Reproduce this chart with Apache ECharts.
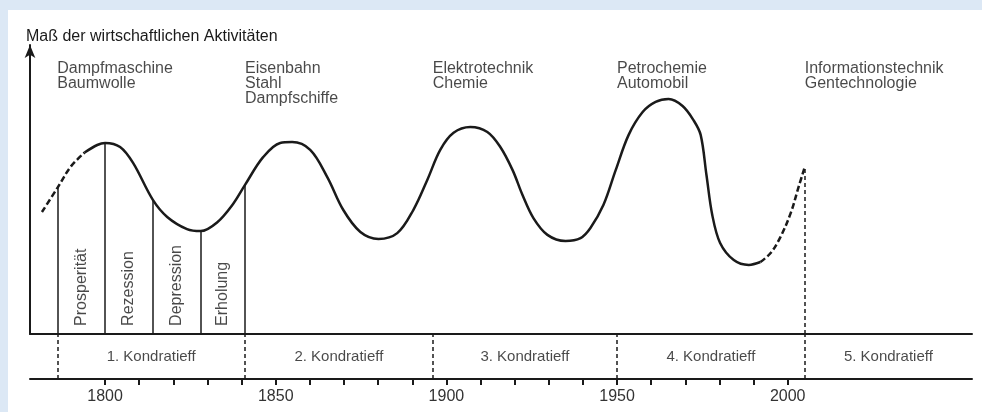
<!DOCTYPE html>
<html>
<head>
<meta charset="utf-8">
<script src="https://cdn.jsdelivr.net/npm/echarts@6/dist/echarts.min.js"></script>
<style>
  html, body { margin: 0; padding: 0; background: #fff; }
  #chart { width: 982px; height: 412px; }
</style>
</head>
<body>
<div id="chart"></div>
<script>
  // Kondratieff-Wellen: Kurve (Jahr / Aktivität 0..100)
  var curveYears = [1781.5, 1786, 1790, 1794, 1797.7, 1800, 1804.4, 1808.2, 1814, 1818.2, 1824, 1828,
    1832.8, 1837.5, 1841, 1846.3, 1851.3, 1854.8, 1860.1, 1865.1, 1869.8, 1874.8, 1880.1, 1885.6,
    1890.3, 1894.4, 1898.2, 1902.1, 1907, 1912, 1915.8, 1919.4, 1922.3, 1925.5, 1929.6, 1934.9,
    1939.3, 1942.2, 1946, 1949.6, 1953.4, 1957.5, 1961.3, 1965.1, 1969.2, 1972.4, 1974.5, 1976.2,
    1977.9, 1980.2, 1984.2, 1988.6, 1992, 1995, 1997.9, 2000.9, 2003.2, 2005]
  var curveValues = [42.2, 50.5, 58.0, 62.8, 65.4, 66.1, 64.7, 59.2, 46.4, 40.5, 36.3, 35.6,
    38.6, 45.0, 51.6, 61.2, 66.1, 66.4, 63.7, 54.3, 42.9, 35.3, 32.9, 34.9,
    42.9, 53.3, 63.7, 69.6, 71.6, 69.9, 64.7, 56.7, 48.1, 40.1, 34.3, 32.2,
    33.2, 36.7, 44.6, 56.7, 68.9, 76.8, 80.3, 81.3, 78.9, 74.0, 68.9, 55.0,
    41.2, 31.5, 25.6, 23.9, 24.9, 28.0, 33.6, 41.9, 50.9, 57.8]
  var solidFrom = 1794
  var solidTo = 1992

  var waveStarts = [1786, 1841, 1896, 1950, 2005]
  var waveNames = ['1. Kondratieff', '2. Kondratieff', '3. Kondratieff', '4. Kondratieff', '5. Kondratieff']
  var techLabels = ['Dampfmaschine\nBaumwolle', 'Eisenbahn\nStahl\nDampfschiffe', 'Elektrotechnik\nChemie',
    'Petrochemie\nAutomobil', 'Informationstechnik\nGentechnologie']
  var phaseYears = [1786, 1800, 1814, 1828, 1841]
  var phaseNames = ['Prosperität', 'Rezession', 'Depression', 'Erholung']
  var yearTicks = [1800, 1810, 1820, 1830, 1840, 1850, 1860, 1870, 1880, 1890, 1900, 1910, 1920,
    1930, 1940, 1950, 1960, 1970, 1980, 1990, 2000]
  var yearLabels = [1800, 1850, 1900, 1950, 2000]

  var axisMin = 1778
  var axisMax = 2054
  var ink = '#1a1a1a'
  var font = 'Liberation Sans, Arial, sans-serif'

  function valueAt(year) {
    return curveValues[curveYears.indexOf(year)]
  }
  function pick(test) {
    var out = []
    curveYears.forEach(function (y, i) { if (test(y)) out.push([y, curveValues[i]]) })
    return out
  }

  var dividerLines = phaseYears.map(function (y) {
    return [{ coord: [y, 0] }, { coord: [y, valueAt(y)] }]
  })
  // letzte Grenze gestrichelt
  var lastStart = waveStarts[waveStarts.length - 1]
  dividerLines.push([{ coord: [lastStart, 0], lineStyle: { type: [4, 3] } }, { coord: [lastStart, valueAt(lastStart)] }])

  var phaseData = phaseNames.map(function (n, i) {
    return { value: [(phaseYears[i] + phaseYears[i + 1]) / 2, 2.8], name: n }
  })
  var techData = techLabels.map(function (t, i) {
    return { value: [waveStarts[i], 94.3], name: t }
  })
  var waveData = waveNames.map(function (n, i) {
    var end = i < waveStarts.length - 1 ? waveStarts[i + 1] : axisMax
    return { value: [(waveStarts[i] + end) / 2, 0.5], name: n }
  })

  var chart = echarts.init(document.getElementById('chart'))
  var option = {
    animation: false,
    backgroundColor: '#fff',
    graphic: [
      { type: 'rect', left: 0, top: 0, shape: { width: 982, height: 10 }, style: { fill: '#dce8f5' } },
      { type: 'rect', left: 0, top: 0, shape: { width: 8, height: 412 }, style: { fill: '#dce8f5' } }
    ],
    title: {
      text: 'Maß der wirtschaftlichen Aktivitäten',
      left: 21, top: 24,
      textStyle: { fontFamily: font, fontSize: 16, fontWeight: 'normal', color: ink }
    },
    grid: [
      { left: 30, right: 10, top: 45, bottom: 78 },
      { left: 30, right: 10, top: 334, bottom: 33 }
    ],
    xAxis: [
      {
        gridIndex: 0, type: 'value', min: axisMin, max: axisMax,
        axisLine: { lineStyle: { color: ink, width: 2 } },
        axisTick: { show: false }, axisLabel: { show: false }, splitLine: { show: false }
      },
      {
        gridIndex: 1, type: 'value', min: axisMin, max: axisMax,
        axisLine: { lineStyle: { color: ink, width: 2 } },
        axisTick: { customValues: yearTicks, length: 6, lineStyle: { color: ink, width: 2 } },
        axisLabel: {
          customValues: yearLabels, margin: 10, color: '#333', fontFamily: font, fontSize: 16,
          formatter: function (v) { return String(v) }
        },
        splitLine: { show: false }
      }
    ],
    yAxis: [
      {
        gridIndex: 0, type: 'value', min: 0, max: 100,
        axisLine: { show: true, symbol: ['none', 'arrow'], symbolSize: [8, 13], symbolOffset: [0, 0],
          lineStyle: { color: ink, width: 2 } },
        axisTick: { show: false }, axisLabel: { show: false }, splitLine: { show: false }
      },
      {
        gridIndex: 1, type: 'value', min: 0, max: 1, show: false
      }
    ],
    series: [
      {
        type: 'line', xAxisIndex: 0, yAxisIndex: 0,
        data: pick(function (y) { return y <= solidFrom }),
        smooth: 0.35, symbol: 'none',
        lineStyle: { color: ink, width: 2.5, type: [6, 3] }
      },
      {
        type: 'line', xAxisIndex: 0, yAxisIndex: 0,
        data: pick(function (y) { return y >= solidFrom && y <= solidTo }),
        smooth: 0.35, symbol: 'none',
        lineStyle: { color: ink, width: 2.5 },
        markLine: {
          silent: true, symbol: ['none', 'none'], label: { show: false },
          lineStyle: { color: ink, width: 1.5, type: 'solid' },
          data: dividerLines
        }
      },
      {
        type: 'line', xAxisIndex: 0, yAxisIndex: 0,
        data: pick(function (y) { return y >= solidTo }),
        smooth: 0.35, symbol: 'none',
        lineStyle: { color: ink, width: 2.5, type: [6, 3] }
      },
      {
        type: 'scatter', xAxisIndex: 0, yAxisIndex: 0, symbolSize: 0, silent: true,
        data: techData,
        label: {
          show: true, position: [0, 0], align: 'left', verticalAlign: 'top',
          formatter: '{b}', color: ink, fontFamily: font, fontSize: 16, lineHeight: 15
        }
      },
      {
        type: 'scatter', xAxisIndex: 0, yAxisIndex: 0, symbolSize: 0, silent: true,
        data: phaseData,
        label: {
          show: true, position: [0, 0], align: 'left', verticalAlign: 'middle', rotate: 90,
          formatter: '{b}', color: ink, fontFamily: font, fontSize: 16
        }
      },
      {
        type: 'scatter', xAxisIndex: 1, yAxisIndex: 1, symbolSize: 0, silent: true,
        data: waveData,
        label: {
          show: true, position: [0, 0], align: 'center', verticalAlign: 'middle',
          formatter: '{b}', color: ink, fontFamily: font, fontSize: 15
        },
        markLine: {
          silent: true, symbol: ['none', 'none'], label: { show: false },
          lineStyle: { color: ink, width: 1.5, type: [4, 3] },
          data: waveStarts.map(function (y) { return { xAxis: y } })
        }
      }
    ]
  }
  chart.setOption(option)
</script>
</body>
</html>
